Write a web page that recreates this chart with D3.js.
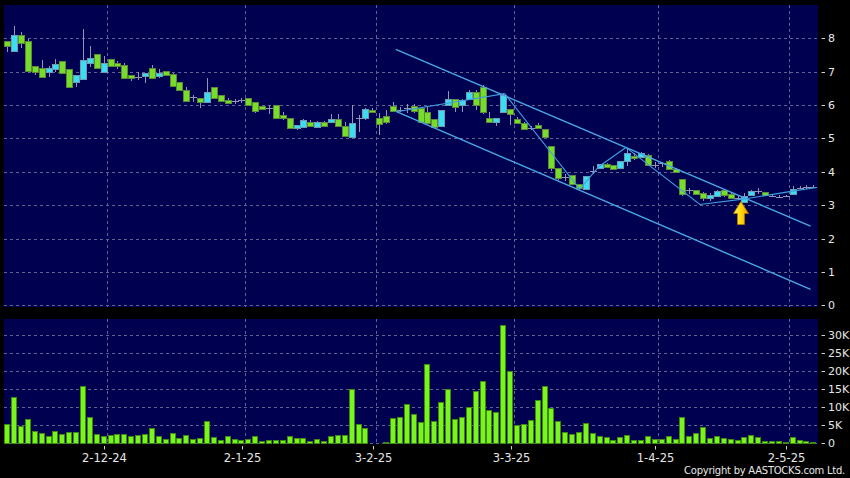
<!DOCTYPE html>
<html><head><meta charset="utf-8">
<script src="https://cdn.jsdelivr.net/npm/d3@7"></script>
<style>html,body{margin:0;padding:0;background:#000;} svg{display:block;}</style>
</head><body><svg id="chart" width="850" height="478"></svg>
<script>
// ---------- DATA ----------
const opens  = [7.92,7.63,8.10,7.92,7.17,7.10,7.00,7.09,7.31,7.07,6.68,6.79,7.27,7.52,7.00,7.37,7.25,7.19,6.89,6.85,
                6.88,7.10,6.88,7.01,6.92,6.68,6.44,6.23,6.20,6.10,6.53,6.30,6.16,6.12,6.15,6.20,6.08,5.97,5.92,6.00,
                5.70,5.60,5.30,5.33,5.48,5.35,5.48,5.48,5.58,5.38,5.05,5.62,5.60,5.85,5.60,5.68,5.98,5.85,5.90,5.97,
                5.90,5.78,5.57,5.37,6.00,6.17,5.99,6.17,6.40,6.55,5.60,5.50,5.78,5.87,5.58,5.47,5.32,5.40,5.27,4.77,
                4.10,3.85,3.90,3.63,3.48,4.03,4.10,4.22,4.19,4.12,4.32,4.47,4.45,4.50,4.20,4.25,4.32,4.09,3.79,3.44,
                3.45,3.35,3.22,3.27,3.44,3.32,3.22,3.10,3.30,3.42,3.40,3.27,3.25,3.27,3.34,3.52,3.54,3.55];
const highs  = [7.92,8.37,8.20,7.98,7.17,7.35,7.18,7.38,7.31,7.07,6.90,8.28,7.77,7.52,7.47,7.37,7.32,7.25,6.89,7.00,
                6.95,7.20,7.08,7.01,6.95,6.68,6.53,6.30,6.20,6.82,6.53,6.30,6.20,6.18,6.20,6.20,6.08,5.97,6.00,6.00,
                5.78,5.60,5.40,5.58,5.55,5.52,5.53,5.72,5.72,5.48,6.00,5.70,5.90,5.90,5.75,5.85,6.08,5.93,6.03,6.03,
                5.95,5.95,5.57,5.85,6.42,6.17,6.18,6.45,6.45,6.60,5.78,5.60,6.35,5.87,5.63,5.50,5.37,5.45,5.27,4.77,
                4.10,3.93,3.90,3.63,3.87,4.17,4.23,4.25,4.19,4.32,4.72,4.55,4.60,4.52,4.29,4.30,4.35,4.10,3.79,3.52,
                3.45,3.39,3.37,3.45,3.47,3.35,3.27,3.35,3.45,3.52,3.40,3.33,3.30,3.30,3.57,3.58,3.60,3.60];
const lows   = [7.60,7.63,7.70,7.00,6.90,6.83,6.85,7.00,6.95,6.52,6.55,6.79,7.15,7.12,7.00,7.15,7.08,6.82,6.72,6.75,
                6.67,6.80,6.80,6.88,6.55,6.43,6.10,6.10,5.92,6.10,6.20,6.10,6.02,6.02,6.05,6.00,5.75,5.85,5.72,5.62,
                5.55,5.28,5.25,5.33,5.35,5.35,5.35,5.45,5.38,5.05,5.05,5.20,5.55,5.75,5.10,5.43,5.80,5.78,5.75,5.77,
                5.47,5.45,5.30,5.37,6.00,5.80,5.80,6.17,5.85,5.72,5.50,5.37,5.78,5.40,5.42,5.25,5.25,5.28,5.00,4.03,
                3.75,3.73,3.60,3.48,3.48,3.92,4.08,4.10,4.05,4.10,4.17,4.35,4.40,4.18,4.12,4.15,4.05,3.97,3.27,3.32,
                3.32,3.12,3.12,3.25,3.25,3.20,3.15,3.08,3.28,3.32,3.29,3.24,3.22,3.24,3.34,3.48,3.48,3.50];
const closes = [7.78,8.10,7.87,7.03,6.99,6.83,7.10,7.22,6.95,6.55,6.90,7.35,7.41,7.12,7.25,7.18,7.18,6.82,6.80,6.85,
                6.95,6.80,6.95,6.90,6.56,6.46,6.13,6.23,6.10,6.38,6.22,6.13,6.07,6.12,6.15,6.00,5.82,5.89,5.92,5.62,
                5.62,5.30,5.40,5.55,5.38,5.48,5.38,5.58,5.38,5.08,5.45,5.62,5.87,5.78,5.43,5.50,5.82,5.85,5.90,5.83,
                5.50,5.45,5.33,5.85,6.18,5.95,6.15,6.40,6.00,5.80,5.50,5.60,6.30,5.72,5.45,5.27,5.32,5.30,5.03,4.10,
                3.80,3.85,3.63,3.50,3.87,4.03,4.23,4.13,4.07,4.32,4.57,4.42,4.55,4.20,4.20,4.25,4.09,4.00,3.32,3.44,
                3.34,3.22,3.29,3.42,3.29,3.22,3.22,3.27,3.42,3.42,3.29,3.27,3.25,3.27,3.49,3.52,3.54,3.55];
const volumes = [5400,13000,4900,6800,3400,2900,2000,3400,2700,3100,3100,15900,7200,2500,2100,2300,2500,2500,2000,2200,
                 2500,4300,1900,1300,2800,1600,2200,1300,1600,6100,1800,800,1900,1300,900,1200,2100,500,800,1000,
                 900,1900,1600,1500,600,1100,600,2100,2200,2400,15100,5500,4200,0,100,400,6900,7200,10900,8100,
                 6000,21900,6100,11500,15100,6800,7200,10100,14600,17400,9300,8800,32900,20200,5100,5500,6600,11900,15800,9700,
                 6100,3100,2700,3100,5600,2800,2000,1700,900,1800,2400,900,900,2000,1200,1300,1900,1300,7400,1900,
                 3000,4500,1600,1900,1600,1200,1000,1800,2400,1800,600,600,600,300,1800,1000,600,400];
const priceTicks = [0,1,2,3,4,5,6,7,8];
const volumeTicks = [0,5000,10000,15000,20000,25000,30000];
const volumeTickLabels = ["0","5K","10K","15K","20K","25K","30K"];
const dateTickIndex = [14,34,53,73,94,113];
const dateTickLabels = ["2-12-24","2-1-25","3-2-25","3-3-25","1-4-25","2-5-25"];
// trend lines as [bar index, price]
const upperChannel = [[56.4,7.67],[116.6,2.37]];
const lowerChannel = [[56.5,5.80],[116.6,0.48]];
const zigzag = [[56.5,5.80],[72.2,6.34],[83.1,3.48],[85.9,4.16],[89.8,4.73],[100.55,3.02],[106.8,3.18],[114,3.42],[117.5,3.53]];
const arrowAt = [106.5,3.11];

// ---------- LAYOUT ----------
const svg = d3.select("#chart");
const P = {l:4, r:818, t:5, b:307};     // price panel
const V = {l:4, r:818, t:319, b:444};   // volume panel
const n = opens.length;

const x = d3.scaleLinear().domain([0, n-1]).range([7.2, 813.3]);
const y = d3.scaleLinear().domain([0, 8]).range([305.3, 38.3]);
const yv = d3.scaleLinear().domain([0, 30000]).range([443.3, 335.3]);

svg.append("rect").attr("width",850).attr("height",478).attr("fill","#000");
svg.append("rect").attr("x",P.l).attr("y",P.t).attr("width",P.r-P.l).attr("height",P.b-P.t).attr("fill","#000050");
svg.append("rect").attr("x",V.l).attr("y",V.t).attr("width",V.r-V.l).attr("height",V.b-V.t).attr("fill","#000050");

const gridCol = "#62628f";
const grid = svg.append("g").attr("stroke",gridCol).attr("stroke-width",1).attr("stroke-dasharray","3,3").attr("shape-rendering","crispEdges");
priceTicks.forEach(p => grid.append("line").attr("x1",P.l).attr("x2",P.r).attr("y1",Math.round(y(p))+0.5).attr("y2",Math.round(y(p))+0.5));
volumeTicks.forEach(v => grid.append("line").attr("x1",V.l).attr("x2",V.r).attr("y1",Math.round(yv(v))+0.5).attr("y2",Math.round(yv(v))+0.5));
dateTickIndex.forEach(i => {
  const gx = Math.round(x(i+0.5))+0.5;
  grid.append("line").attr("x1",gx).attr("x2",gx).attr("y1",P.t).attr("y2",P.b);
  grid.append("line").attr("x1",gx).attr("x2",gx).attr("y1",V.t).attr("y2",V.b);
});

// ---------- VOLUME ----------
const vg = svg.append("g").attr("shape-rendering","crispEdges");
volumes.forEach((v,i) => {
  const R = Math.round(x(i));
  const top = Math.round(yv(v));
  if (v <= 0) return;
  vg.append("rect").attr("x",R-2.5).attr("y",top+0.5).attr("width",5).attr("height",Math.max(0,Math.round(yv(0))-top-0.5))
    .attr("fill","#7af51c").attr("stroke","#3d8a12").attr("stroke-width",1);
});

// ---------- CANDLES ----------
const cg = svg.append("g").attr("shape-rendering","crispEdges");
const wickCol = "#9494b4";
for (let i=0;i<n;i++){
  const R = Math.round(x(i));
  const o=opens[i], c=closes[i], h=highs[i], l=lows[i];
  cg.append("line").attr("x1",R+0.5).attr("x2",R+0.5).attr("y1",y(h)).attr("y2",y(l)).attr("stroke",wickCol).attr("stroke-width",1);
  if (Math.abs(o-c) < 1e-9){
    cg.append("line").attr("x1",R-3).attr("x2",R+4).attr("y1",Math.round(y(o))+0.5).attr("y2",Math.round(y(o))+0.5).attr("stroke",wickCol).attr("stroke-width",1);
  } else {
    const up = c > o;
    const yt = Math.round(y(Math.max(o,c))), yb = Math.round(y(Math.min(o,c)));
    cg.append("rect").attr("x",R-2.5).attr("y",yt+0.5).attr("width",6).attr("height",Math.max(1,yb-yt))
      .attr("fill", up ? "#3cdcf2" : "#78dc2a")
      .attr("stroke", up ? "#6a9cb4" : "#5a8a3a").attr("stroke-width",1);
  }
}

// ---------- TREND LINES ----------
const line = d3.line().x(d=>x(d[0])).y(d=>y(d[1]));
const lineCol = "#4aa8e6";
svg.append("path").attr("d",line(upperChannel)).attr("fill","none").attr("stroke",lineCol).attr("stroke-width",1.4);
svg.append("path").attr("d",line(lowerChannel)).attr("fill","none").attr("stroke",lineCol).attr("stroke-width",1.4);
svg.append("path").attr("d",line(zigzag)).attr("fill","none").attr("stroke","#3f9ee0").attr("stroke-width",1.1);

// ---------- ARROW ----------
const defs = svg.append("defs");
const grad = defs.append("linearGradient").attr("id","arrowGrad").attr("x1","0%").attr("x2","100%").attr("y1","0%").attr("y2","0%");
grad.append("stop").attr("offset","0%").attr("stop-color","#fff36a");
grad.append("stop").attr("offset","55%").attr("stop-color","#ffd400");
grad.append("stop").attr("offset","100%").attr("stop-color","#f09a00");
const tx = x(arrowAt[0]), ty = y(arrowAt[1]);
const ap = d3.path();
ap.moveTo(tx,ty); ap.lineTo(tx+7.5,ty+12); ap.lineTo(tx+3.5,ty+12); ap.lineTo(tx+3.5,ty+23);
ap.lineTo(tx-3.5,ty+23); ap.lineTo(tx-3.5,ty+12); ap.lineTo(tx-7.5,ty+12); ap.closePath();
svg.append("path").attr("d",ap.toString()).attr("fill","url(#arrowGrad)").attr("stroke","#b87800").attr("stroke-width",0.8);

// ---------- AXES TEXT ----------
const font = "DejaVu Sans, Verdana, sans-serif";
const txtCol = "#e6e6e6";
const ax = svg.append("g");
priceTicks.forEach(p => {
  const yy = Math.round(y(p))+0.5;
  ax.append("line").attr("x1",821.5).attr("x2",825).attr("y1",yy).attr("y2",yy).attr("stroke","#cfcfcf").attr("stroke-width",1);
  ax.append("text").attr("x",828).attr("y",yy).attr("dy","0.36em").attr("fill",txtCol).attr("font-family",font).attr("font-size","11px").text(p);
});
volumeTicks.forEach((v,k) => {
  const yy = Math.round(yv(v))+0.5;
  ax.append("line").attr("x1",821.5).attr("x2",825).attr("y1",yy).attr("y2",yy).attr("stroke","#cfcfcf").attr("stroke-width",1);
  ax.append("text").attr("x",828).attr("y",yy).attr("dy","0.36em").attr("fill",txtCol).attr("font-family",font).attr("font-size","11px").text(volumeTickLabels[k]);
});
dateTickIndex.forEach((i,k) => {
  const gx = Math.round(x(i+0.5))+0.5;
  ax.append("line").attr("x1",gx-3).attr("x2",gx-3).attr("y1",446).attr("y2",449.5).attr("stroke","#cfcfcf").attr("stroke-width",1);
  ax.append("text").attr("x",gx-3).attr("y",462).attr("text-anchor","middle").attr("fill",txtCol).attr("font-family",font).attr("font-size","11.5px").text(dateTickLabels[k]);
});
ax.append("text").attr("x",845).attr("y",474).attr("text-anchor","end").attr("fill",txtCol).attr("font-family",font)
  .attr("font-size","10px").attr("letter-spacing","-0.25px").text("Copyright by AASTOCKS.com Ltd.");
</script></body></html>
